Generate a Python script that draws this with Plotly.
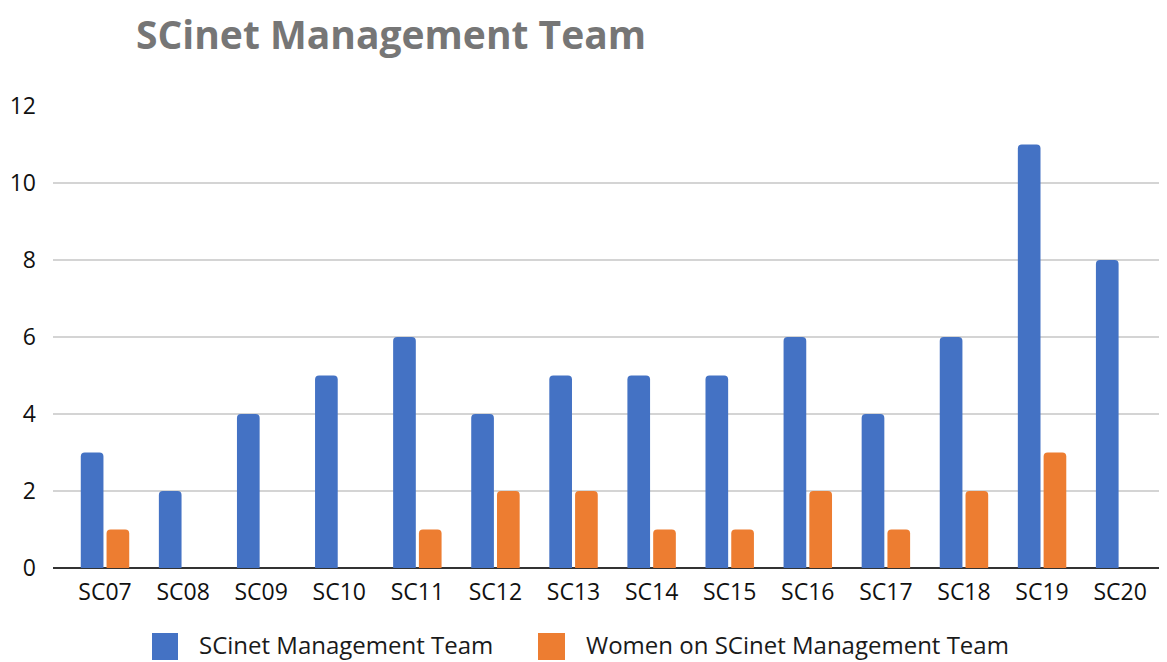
import plotly.graph_objects as go

categories = ["SC07", "SC08", "SC09", "SC10", "SC11", "SC12", "SC13",
              "SC14", "SC15", "SC16", "SC17", "SC18", "SC19", "SC20"]
team = [3, 2, 4, 5, 6, 4, 5, 5, 5, 6, 4, 6, 11, 8]
women = [1, None, None, None, 1, 2, 2, 1, 1, 2, 1, 2, 3, None]
series_names = ["SCinet Management Team", "Women on SCinet Management Team"]
colors = ["#4472C4", "#ED7D31"]
y_ticks = [0, 2, 4, 6, 8, 10, 12]

# the page body has an 8px default margin; work in reference pixels and offset
OFF = 8
W, H = 1167 - OFF, 662 - OFF
L = 53 - OFF
T = 106 - OFF
B = H - (568 - OFF)
R = 0
pw, ph = W - L - R, H - T - B

def px(x):
    return (x - OFF - L) / pw

def py(y):
    return (H - B - (y - OFF)) / ph

font_fam = "Open Sans, Arial, sans-serif"

fig = go.Figure()
fig.add_trace(go.Bar(x=categories, y=team, name=series_names[0],
                     marker=dict(color=colors[0], line=dict(width=0))))
fig.add_trace(go.Bar(x=categories, y=women, name=series_names[1],
                     marker=dict(color=colors[1], line=dict(width=0))))

shapes = []
annotations = []
legend_items = [(152, 178, 197), (538, 565, 584)]
for (x0, x1, tx), name, col in zip(legend_items, series_names, colors):
    shapes.append(dict(type="rect", xref="paper", yref="paper",
                       x0=px(x0), x1=px(x1), y0=py(660), y1=py(633),
                       fillcolor=col, line=dict(width=0)))
    annotations.append(dict(text=name, xref="paper", yref="paper",
                            x=px(tx), y=py(644), xanchor="left", yanchor="middle",
                            showarrow=False,
                            font=dict(family=font_fam, size=24, color="#1a1a1a")))

fig.update_layout(
    width=W, height=H,
    margin=dict(l=L, r=R, t=T, b=B),
    paper_bgcolor="white", plot_bgcolor="white",
    title=dict(text="<b>SCinet Management Team</b>", xref="container", yref="container",
               x=(136 - OFF) / W, xanchor="left", y=1 - (35 - OFF) / H, yanchor="middle",
               font=dict(family=font_fam, size=39, color="#767676")),
    barmode="group", bargap=0.34, bargroupgap=0.12, barcornerradius=4,
    showlegend=False,
    shapes=shapes, annotations=annotations,
    xaxis=dict(type="category", range=[-0.666, 13.6], showgrid=False,
               showline=False, ticks="", ticklabelstandoff=8,
               tickfont=dict(family=font_fam, size=23, color="#111111")),
    yaxis=dict(range=[0, 12], tickvals=y_ticks, showgrid=True,
               gridcolor="#d4d4d4", gridwidth=1.5, zeroline=True,
               zerolinecolor="#333333", zerolinewidth=2, showline=False,
               ticks="", ticklabelstandoff=16,
               tickfont=dict(family=font_fam, size=23, color="#111111")),
)

fig.write_html("out.html")
